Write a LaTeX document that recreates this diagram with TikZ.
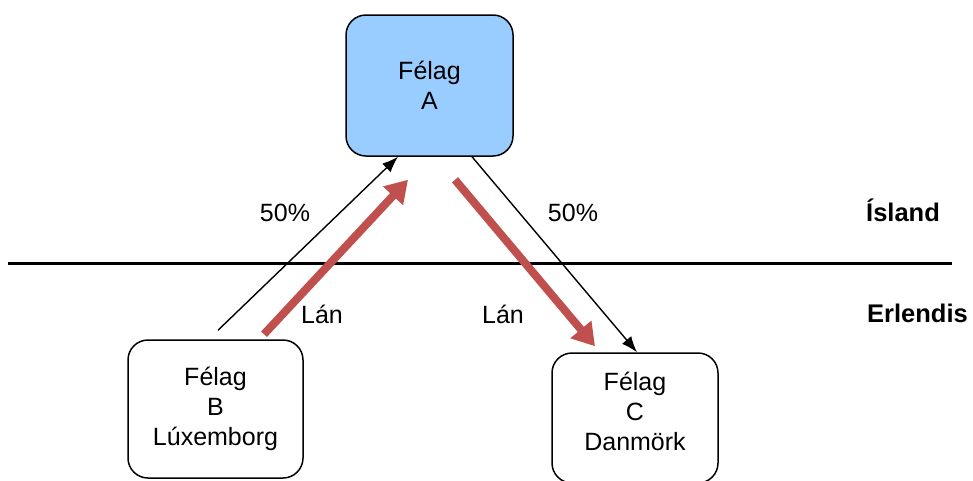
\documentclass[tikz,border=0pt]{standalone}
\usepackage{fontspec}
\setmainfont{Liberation Sans}
\usetikzlibrary{arrows.meta}
\definecolor{felagblue}{HTML}{99CCFF}
\definecolor{lanred}{HTML}{C0504D}
\tikzstyle{every node} = [inner sep=0pt, font=\fontsize{25}{30}\selectfont]
\tikzstyle{felag} = [draw, line width=1.5pt, rounded corners=20pt, align=center]
\tikzstyle{share} = [-{Latex[length=16pt,width=12pt]}, line width=1.4pt]
\tikzstyle{loan} = [-{Triangle[length=22pt,width=26pt]}, line width=8pt, draw=lanred]
\tikzstyle{land} = [anchor=base, font=\fontsize{25.5}{30}\selectfont\bfseries]

\begin{document}
\begin{tikzpicture}[x=1pt, y=-1pt]
        \useasboundingbox (0,0) rectangle (973,480);

        \node[felag, fill=felagblue, minimum width=167pt, minimum height=141pt] (A) at (429.5,85.5) {Félag\\A};
        \node[felag, minimum width=175pt, minimum height=138pt] (B) at (215.5,409) {Félag\\B\\Lúxemborg};
        \node[felag, minimum width=166pt, minimum height=130pt, text depth=14pt] (C) at (635,418) {Félag\\C\\Danmörk};

        \draw[line width=3pt] (8,263) -- (952,263);

        \node[anchor=base] (sB) at (285,221) {50\%};
        \node[anchor=base] (sC) at (573,221) {50\%};
        \node[anchor=base] (lB) at (322,323) {Lán};
        \node[anchor=base] (lC) at (503,323) {Lán};
        \node[land] (is) at (903,221) {Ísland};
        \node[land] (er) at (917.5,322) {Erlendis};

        \draw[share] ([shift={(2.5,-9)}]B.north) -- ([xshift=-31.5pt]A.south);
        \draw[share] ([xshift=42.5pt]A.south) -- ([xshift=2pt]C.north);
        \draw[loan] ([shift={(48.5,-5)}]B.north) -- ([shift={(-21.5,23)}]A.south);
        \draw[loan] ([shift={(25.5,23)}]A.south) -- ([shift={(-40,-6)}]C.north);
    \end{tikzpicture}
\end{document}
